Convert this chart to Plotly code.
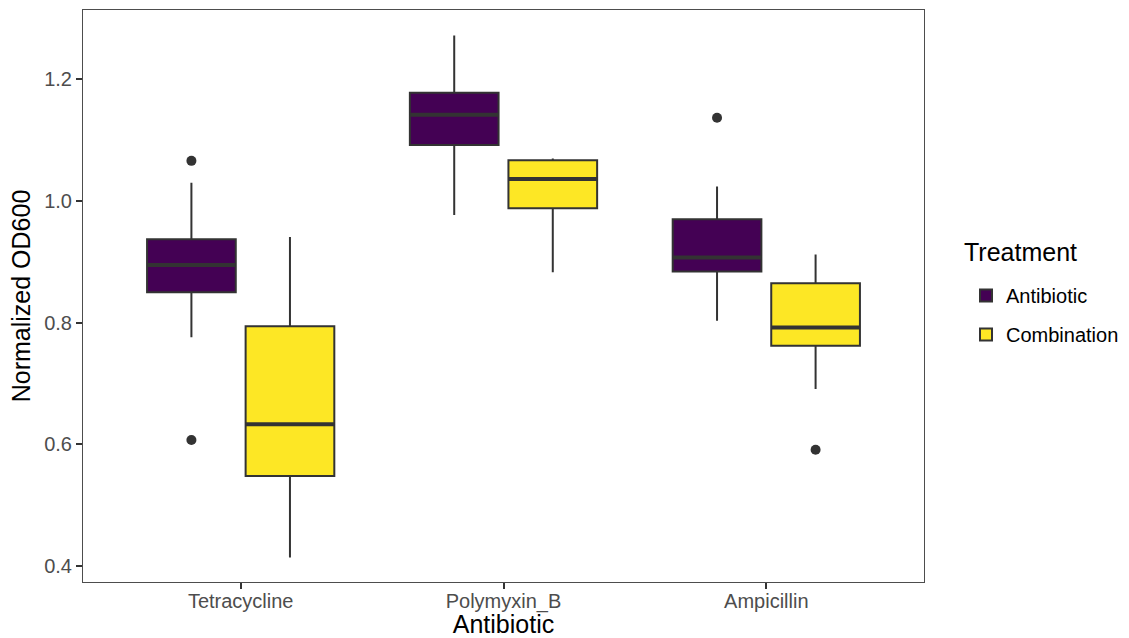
import plotly.graph_objects as go

# Summary statistics per antibiotic and treatment
antibiotics = ["Tetracycline", "Polymyxin_B", "Ampicillin"]
treatments = ["Antibiotic", "Combination"]
colors = ["#440154", "#FDE725"]

q1 = {
    "Antibiotic": [0.850, 1.092, 0.884],
    "Combination": [0.548, 0.988, 0.762],
}
median = {
    "Antibiotic": [0.895, 1.142, 0.907],
    "Combination": [0.633, 1.036, 0.792],
}
q3 = {
    "Antibiotic": [0.937, 1.178, 0.970],
    "Combination": [0.794, 1.067, 0.865],
}
lower_whisker = {
    "Antibiotic": [0.776, 0.977, 0.803],
    "Combination": [0.414, 0.883, 0.691],
}
upper_whisker = {
    "Antibiotic": [1.030, 1.272, 1.024],
    "Combination": [0.941, 1.070, 0.912],
}
# Outlying observations per box (None where a box has none)
outliers = {
    "Antibiotic": [[1.066, 0.607], [None], [1.137]],
    "Combination": [[None], [None], [0.591]],
}

FONT = "Liberation Sans, Arial, sans-serif"
BOX_GAP = 0.25
GROUP_GAP = 0.1

fig = go.Figure()
for t, c in zip(treatments, colors):
    fig.add_trace(go.Box(
        name=t,
        legendgroup=t,
        x=antibiotics,
        y=outliers[t],
        q1=q1[t],
        median=median[t],
        q3=q3[t],
        lowerfence=lower_whisker[t],
        upperfence=upper_whisker[t],
        boxpoints="outliers",
        fillcolor=c,
        line=dict(color="#333333", width=2),
        marker=dict(color="#333333", size=10, outliercolor="#333333",
                    line=dict(width=0)),
        whiskerwidth=0,
        hoverinfo="skip",
    ))

# Thicker median bars drawn over each box, dodged like the boxes
slot = (1 - BOX_GAP) / len(treatments)
half_box = slot * (1 - GROUP_GAP) / 2
for k, t in enumerate(treatments):
    center = -(1 - BOX_GAP) / 2 + slot * (k + 0.5)
    for a, m in zip(antibiotics, median[t]):
        fig.add_shape(
            type="line", xref="x", yref="y",
            x0=a, x1=a, x0shift=center - half_box, x1shift=center + half_box,
            y0=m, y1=m, line=dict(color="#333333", width=4), layer="above",
        )

axis_common = dict(
    automargin=False,
    showline=True, mirror=True, linecolor="#4D4D4D", linewidth=1,
    showgrid=False, zeroline=False,
    ticks="outside", ticklen=6, tickwidth=1.5, tickcolor="#333333",
    tickfont=dict(family=FONT, size=20, color="#4D4D4D"),
    title_font=dict(family=FONT, size=25, color="#000000"),
)

fig.update_layout(
    width=1129, height=638,
    margin=dict(l=83, r=205, t=10, b=56, autoexpand=False),
    paper_bgcolor="white", plot_bgcolor="white",
    boxmode="group", boxgap=BOX_GAP, boxgroupgap=GROUP_GAP,
    font=dict(family=FONT, color="#000000"),
    xaxis=dict(axis_common, title=dict(text="Antibiotic", standoff=4),
               ticklabelstandoff=-5,
               range=[-0.6, 2.6], categoryorder="array", categoryarray=antibiotics),
    yaxis=dict(axis_common, title=dict(text="Normalized OD600", standoff=6),
               range=[0.3737, 1.314], tickvals=[0.4, 0.6, 0.8, 1.0, 1.2],
               ticktext=["0.4", "0.6", "0.8", "1.0", "1.2"]),
    legend=dict(
        font=dict(family=FONT, size=20, color="#000000"),
        xref="container", yref="container",
        x=966 / 1129, y=1 - 276 / 638, xanchor="left", yanchor="top",
        indentation=0, tracegroupgap=10,
        bgcolor="rgba(0,0,0,0)", itemsizing="constant",
    ),
    annotations=[dict(
        text="Treatment", xref="paper", yref="paper",
        x=1.0452, y=0.5767, xanchor="left", yanchor="middle", showarrow=False,
        font=dict(family=FONT, size=25, color="#000000"),
    )],
    showlegend=True,
)

fig.write_html("out.html")
